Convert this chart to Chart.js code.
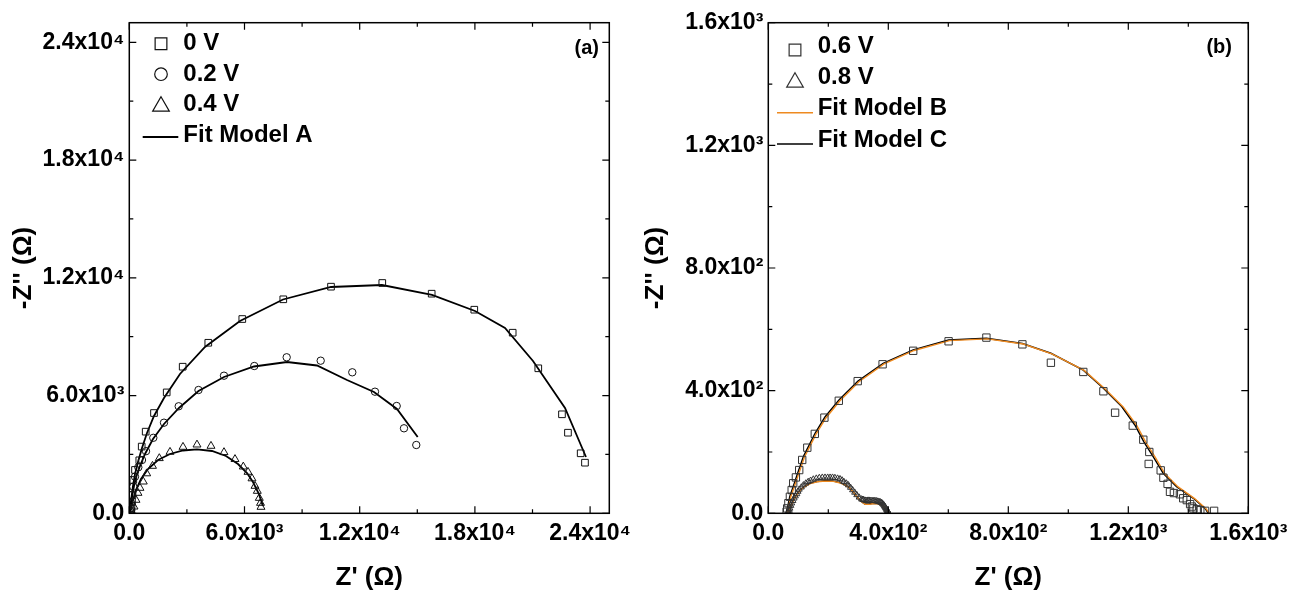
<!DOCTYPE html>
<html>
<head>
<meta charset="utf-8">
<script src="https://cdn.jsdelivr.net/npm/chart.js@4.4.1/dist/chart.umd.min.js"></script>
<style>
  html, body { margin: 0; padding: 0; background: #fff; }
  #wrap { position: relative; width: 1310px; height: 597px; overflow: hidden; }
  canvas { position: absolute; top: 0; }
  #chartA { left: 0; }
  #chartB { left: 630px; }
</style>
</head>
<body>
<div id="wrap">
  <canvas id="chartA" width="680" height="597"></canvas>
  <canvas id="chartB" width="680" height="597"></canvas>
</div>
<script>
// ---- panel (a): Z' / -Z'' in ohm ----
const ticksA = [0, 6000, 12000, 18000, 24000];
const minorA = [3000, 9000, 15000, 21000];
const labelsA = ['0.0', '6.0x10³', '1.2x10⁴', '1.8x10⁴', '2.4x10⁴'];

const data0V = [[95,110],[115,270],[140,580],[167,930],[208,1700],[297,2210],[521,2700],[646,3400],[854,4160],
  [1286,5110],[1948,6160],[2781,7470],[4114,8690],[5885,9900],[8020,10905],[10505,11548],[13176,11736],
  [15749,11191],[17968,10375],[19968,9203],[21301,7389],[22535,5045],[22847,4107],[23509,3058],[23733,2579]];
const fit0V = [[26,66],[62,423],[115,831],[193,1391],[297,2003],[453,2614],[661,3327],[922,4092],[1286,4958],
  [1807,5876],[2640,7099],[3942,8475],[5765,9800],[8005,10895],[10505,11532],[13161,11634],[15765,11125],
  [18005,10310],[19567,9444],[21026,7762],[22693,5367],[23786,2869]];

const data02V = [[70,250],[89,525],[125,933],[208,1356],[297,1865],[469,2344],[661,2716],[870,3165],[1250,3847],
  [1807,4617],[2573,5453],[3604,6283],[4932,7012],[6510,7506],[8197,7950],[9968,7777],[11614,7185],
  [12796,6197],[13926,5468],[14307,4332],[14947,3481]];
const fit02V = [[47,117],[89,423],[141,831],[245,1391],[375,1901],[557,2410],[818,3022],[1234,3787],[1807,4551],
  [2588,5366],[3604,6233],[4932,6947],[6494,7481],[8213,7710],[9775,7532],[11338,6793],[12744,6181],
  [13941,5315],[15020,3888]];

const data04V = [[60,60],[89,168],[245,336],[349,678],[453,1034],[557,1289],[729,1610],[906,2028],[1208,2410],
  [1562,2803],[2120,3124],[2797,3379],[3526,3496],[4255,3430],[4932,3109],[5505,2757],[5937,2375],
  [6182,2105],[6390,1773],[6547,1391],[6666,1136],[6770,779],[6833,525],[6859,321]];
const fit04V = [[26,41],[89,321],[193,678],[349,1187],[609,1748],[974,2258],[1495,2716],[2120,3022],[2797,3200],
  [3526,3261],[4307,3175],[5036,2920],[5661,2512],[6130,2054],[6442,1595],[6703,1085],[6859,678],[6963,372]];

// ---- panel (b) ----
const ticksB = [0, 400, 800, 1200, 1600];
const minorB = [200, 600, 1000, 1400];
const labelsB = ['0.0', '4.0x10²', '8.0x10²', '1.2x10³', '1.6x10³'];

const data06V = [[61,5],[63,16],[67,33],[72,54],[78,76],[83,98],[92,117],[103,141],[113,174],[130,214],[155,259],
  [187,312],[235,367],[298,431],[381,486],[483,530],[601,561],[727,573],[847,551],[942,491],[1050,461],
  [1117,398],[1156,328],[1215,286],[1250,240],[1270,200],[1268,161],[1308,140],[1317,116],[1331,96],
  [1339,70],[1352,66],[1372,62],[1383,49],[1395,43],[1406,30],[1412,22],[1417,16],[1428,13],[1440,10],
  [1456,8],[1486,8]];
const fitC06V = [[59,0],[66,27],[72,56],[83,87],[96,125],[117,185],[156,261],[189,314],[235,369],[299,431],
  [383,489],[483,533],[601,565],[727,571],[847,554],[942,522],[1050,467],[1117,408],[1178,348],[1222,288],
  [1252,233],[1283,185],[1317,130],[1361,87],[1417,49],[1456,16],[1467,0]];
const fitB06V = [[62,0],[69,26],[75,54],[86,85],[99,122],[120,182],[159,258],[192,311],[238,366],[302,429],
  [386,487],[486,531],[604,563],[730,569],[850,552],[945,520],[1053,466],[1121,407],[1183,347],[1228,287],
  [1258,232],[1289,184],[1322,129],[1366,86],[1421,48],[1459,15],[1470,0]];

const data08V = [[65,1],[67,3],[70,9],[72,16],[75,25],[78,33],[82,41],[86,49],[90,56],[95,63],[99,71],[103,78],
  [110,85],[117,92],[125,98],[133,103],[141,107],[150,111],[160,114],[170,116],[180,117],[189,117],
  [198,117],[206,117],[214,117],[222,116],[231,114],[239,112],[246,108],[252,103],[260,98],[267,92],
  [274,84],[281,76],[288,68],[295,60],[303,52],[311,46],[315,45],[318,44],[323,42],[328,41],[332,42],
  [336,42],[340,41],[345,41],[349,41],[353,41],[357,40],[361,40],[365,39],[369,38],[373,37],[376,35],
  [379,33],[382,30],[385,27],[387,24],[389,21],[391,18],[393,14],[395,11],[397,9],[398,7],[399,5],[400,3]];
const fitC08V = [[67,5],[74,24],[83,43],[94,61],[106,76],[122,89],[139,98],[162,104],[189,106],[216,105],
  [239,100],[259,91],[272,82],[286,66],[300,49],[312,37],[322,30],[336,30],[350,33],[364,32],[378,27],
  [389,19],[397,9],[403,0]];
const fitB08V = [[68,5],[75,23],[84,42],[95,60],[107,75],[123,88],[140,97],[163,103],[190,105],[217,104],
  [240,99],[260,90],[273,81],[287,65],[301,48],[313,36],[323,29],[337,29],[351,32],[365,31],[379,26],
  [390,18],[398,8],[404,0]];

const FONT = "'Liberation Sans', Arial, Helvetica, sans-serif";
Chart.defaults.font.family = FONT;
Chart.defaults.color = '#000';

const pts = arr => arr.map(p => ({ x: p[0], y: p[1] }));

function drawMarker(ctx, style, x, y, r, color, lw) {
  ctx.save();
  ctx.strokeStyle = color;
  ctx.lineWidth = lw;
  ctx.beginPath();
  if (style === 'rect') {
    const s = r * Math.SQRT1_2;
    ctx.rect(x - s, y - s, 2 * s, 2 * s);
  } else if (style === 'circle') {
    ctx.arc(x, y, r, 0, Math.PI * 2);
  } else {
    ctx.moveTo(x, y - r);
    ctx.lineTo(x + r * 0.866, y + r / 2);
    ctx.lineTo(x - r * 0.866, y + r / 2);
    ctx.closePath();
  }
  ctx.stroke();
  ctx.restore();
}

// box around the plot with inward ticks on all four sides
const frameTicks = {
  id: 'frameTicks',
  afterDraw(chart, args, o) {
    const { ctx, chartArea: a, scales: { x, y } } = chart;
    ctx.save();
    ctx.strokeStyle = '#000';
    ctx.lineWidth = 1.5;
    ctx.strokeRect(a.left, a.top, a.right - a.left, a.bottom - a.top);
    ctx.lineWidth = 1.2;
    ctx.beginPath();
    const tickX = (v, len) => {
      const px = x.getPixelForValue(v);
      ctx.moveTo(px, a.bottom); ctx.lineTo(px, a.bottom - len);
      ctx.moveTo(px, a.top); ctx.lineTo(px, a.top + len);
    };
    const tickY = (v, len) => {
      const py = y.getPixelForValue(v);
      ctx.moveTo(a.left, py); ctx.lineTo(a.left + len, py);
      ctx.moveTo(a.right, py); ctx.lineTo(a.right - len, py);
    };
    o.major.forEach(v => { tickX(v, 7); tickY(v, 7); });
    o.minor.forEach(v => { tickX(v, 4); tickY(v, 4); });
    ctx.stroke();
    ctx.restore();
  }
};

// legend drawn inside the plot, upper left, plus the panel tag
const insideLegend = {
  id: 'insideLegend',
  afterDraw(chart, args, o) {
    const { ctx, chartArea: a } = chart;
    ctx.save();
    ctx.font = 'bold 24px ' + FONT;
    ctx.fillStyle = '#000';
    ctx.textBaseline = 'middle';
    o.items.forEach(it => {
      const ds = chart.data.datasets[it.ds];
      if (it.line) {
        ctx.strokeStyle = ds.borderColor;
        ctx.lineWidth = ds.borderWidth;
        ctx.beginPath();
        ctx.moveTo(a.left + o.lineX[0], a.top + it.my);
        ctx.lineTo(a.left + o.lineX[1], a.top + it.my);
        ctx.stroke();
      } else {
        drawMarker(ctx, ds.pointStyle, a.left + o.markX, a.top + it.my, it.r, ds.borderColor, 1.2);
      }
      ctx.fillText(ds.label, a.left + o.textX, a.top + it.ty);
    });
    ctx.font = 'bold 20px ' + FONT;
    ctx.textAlign = 'right';
    ctx.fillText(o.tag, a.right - o.tagDx, a.top + o.tagDy);
    ctx.restore();
  }
};

function axis(p, isX) {
  return {
    type: 'linear',
    min: p.min,
    max: p.max,
    afterBuildTicks: s => { s.ticks = p.ticks.map(v => ({ value: v })); },
    afterFit: s => { if (isX) s.height = p.xHeight; else s.width = p.yWidth; },
    grid: { display: false, drawTicks: false },
    border: { display: false },
    ticks: {
      autoSkip: false,
      maxRotation: 0,
      padding: isX ? 7 : 5,
      color: '#000',
      font: { size: 23, weight: 'bold' },
      callback: (v, i) => p.labels[i]
    },
    title: {
      display: true,
      text: isX ? "Z' (Ω)" : "-Z'' (Ω)",
      color: '#000',
      font: { size: 26, weight: 'bold' },
      padding: isX ? { top: 0, bottom: 3.5 } : { top: p.yTitlePad, bottom: 0 }
    }
  };
}

function makeChart(id, p, datasets, legendOpts) {
  return new Chart(document.getElementById(id), {
    type: 'scatter',
    data: { datasets: datasets },
    options: {
      responsive: false,
      animation: false,
      events: [],
      devicePixelRatio: 1,
      layout: { padding: { left: 0, top: 22.7, right: p.padRight, bottom: 0 } },
      scales: { x: axis(p, true), y: axis(p, false) },
      plugins: {
        legend: { display: false },
        tooltip: { enabled: false },
        frameTicks: { major: p.ticks, minor: p.minor },
        insideLegend: legendOpts
      }
    },
    plugins: [frameTicks, insideLegend]
  });
}

function markers(label, arr, style, r, color) {
  return { label: label, data: pts(arr), pointStyle: style, pointRadius: r, borderColor: color,
           backgroundColor: 'rgba(0,0,0,0)', pointBorderWidth: 1, borderWidth: 1, showLine: false, order: 1 };
}
function fitLine(label, arr, color, w, order) {
  return { label: label, data: pts(arr), showLine: true, pointRadius: 0, borderColor: color,
           borderWidth: w, fill: false, tension: 0, order: order };
}

makeChart('chartA',
  { min: 0, max: 25000, ticks: ticksA, minor: minorA, labels: labelsA,
    xHeight: 597 - 513.3, yWidth: 129.3, padRight: 680 - 609.3, yTitlePad: 8.4 },
  [
    markers('0 V', data0V, 'rect', 4.7, '#111'),
    markers('0.2 V', data02V, 'circle', 3.7, '#111'),
    markers('0.4 V', data04V, 'triangle', 4.6, '#111'),
    fitLine('Fit Model A', fit0V, '#000', 1.8, 2),
    fitLine('Fit Model A', fit02V, '#000', 1.8, 2),
    fitLine('Fit Model A', fit04V, '#000', 1.8, 2)
  ],
  {
    markX: 31.7, textX: 54, lineX: [13.4, 49], tag: '(a)', tagDx: 10.3, tagDy: 25.3,
    items: [
      { ds: 0, r: 8.3, my: 21, ty: 20.3 },
      { ds: 1, r: 6.3, my: 51.5, ty: 51.8 },
      { ds: 2, r: 9.6, my: 83.6, ty: 81.8 },
      { ds: 3, line: true, my: 114.3, ty: 112.8 }
    ]
  });

makeChart('chartB',
  { min: 0, max: 1600, ticks: ticksB, minor: minorB, labels: labelsB,
    xHeight: 597 - 513.3, yWidth: 768.3 - 630, padRight: 1310 - 1248.3, yTitlePad: 10.4 },
  [
    markers('0.6 V', data06V, 'rect', 5.2, '#333'),
    markers('0.8 V', data08V, 'triangle', 3.5, '#333'),
    fitLine('Fit Model B', fitB06V, '#ee8a20', 1.4, 2),
    fitLine('Fit Model C', fitC06V, '#000', 1.5, 3),
    fitLine('Fit Model B', fitB08V, '#ee8a20', 1.4, 2),
    fitLine('Fit Model C', fitC08V, '#000', 1.5, 3)
  ],
  {
    markX: 26.7, textX: 49.4, lineX: [8.7, 44.7], tag: '(b)', tagDx: 16.3, tagDy: 24.8,
    items: [
      { ds: 0, r: 8.3, my: 27.3, ty: 23.3 },
      { ds: 1, r: 9.6, my: 59.6, ty: 54.3 },
      { ds: 2, line: true, my: 90, ty: 85.3 },
      { ds: 3, line: true, my: 121.3, ty: 117.3 }
    ]
  });
</script>
</body>
</html>
